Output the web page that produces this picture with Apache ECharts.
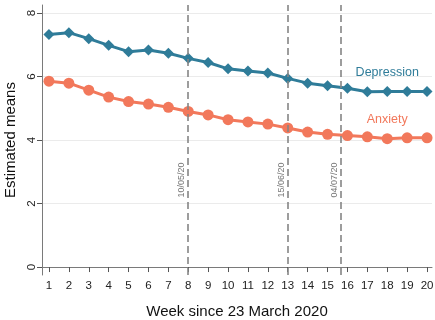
<!DOCTYPE html>
<html><head><meta charset="utf-8">
<script src="https://cdn.jsdelivr.net/npm/echarts@6/dist/echarts.min.js"></script>
<style>html,body{margin:0;padding:0;background:#fff}#c{width:435px;height:320px}</style>
</head><body><div id="c"></div>
<script>
var weeks = [1,2,3,4,5,6,7,8,9,10,11,12,13,14,15,16,17,18,19,20];
var depression = [7.32,7.38,7.19,6.98,6.78,6.83,6.73,6.57,6.44,6.24,6.17,6.11,5.94,5.79,5.71,5.63,5.52,5.53,5.53,5.53];
var anxiety = [5.85,5.79,5.57,5.35,5.21,5.13,5.03,4.90,4.79,4.64,4.57,4.50,4.38,4.25,4.18,4.14,4.10,4.04,4.07,4.07];
var yTicks = [0,2,4,6,8];
var eventWeeks = [8, 13, 15.67];
var eventLabels = ['10/05/20','15/06/20','04/07/20'];
var seriesNames = ['Depression','Anxiety'];
var labelWeek = 18;

var colDep = '#2f7c99', colAnx = '#f2785b';
var font = 'Liberation Sans, Arial, sans-serif';

function mkData(vals, name, col) {
  return weeks.map(function(w, i){
    var item = {value:[w, vals[i]]};
    if (w === labelWeek) {
      item.label = {show:true, position:'top', distance:7, formatter:name, color:col, fontSize:12.5, fontFamily:font};
    }
    return item;
  });
}

var chart = echarts.init(document.getElementById('c'), null, {renderer:'canvas'});
chart.setOption({
  animation:false,
  grid:{left:42, right:3, top:5, bottom:45, outerBoundsMode:'none', containLabel:false},
  xAxis:{
    type:'value', min:0.65, max:20.25,
    name:'Week since 23 March 2020', nameLocation:'middle', nameGap:29,
    nameTextStyle:{fontSize:15, color:'#111', fontFamily:font},
    axisLine:{show:true, lineStyle:{color:'#7a7a7a', width:1}},
    axisTick:{show:true, length:5, customValues:weeks, lineStyle:{color:'#555'}},
    axisLabel:{customValues:weeks, fontSize:11.5, color:'#222', margin:5, fontFamily:font},
    splitLine:{show:false}
  },
  yAxis:{
    type:'value', min:-0.25, max:8.25,
    name:'Estimated means', nameLocation:'middle', nameGap:21,
    nameTextStyle:{fontSize:15, color:'#111', fontFamily:font},
    axisLine:{show:true, lineStyle:{color:'#7a7a7a', width:1}},
    axisTick:{show:true, length:5, customValues:yTicks, lineStyle:{color:'#555'}},
    axisLabel:{customValues:yTicks, rotate:90, fontSize:11.5, color:'#222', margin:4, fontFamily:font},
    splitLine:{show:true, lineStyle:{color:'#ebebeb', width:1}}
  },
  series:[
    {
      name:seriesNames[0], type:'line', data:mkData(depression, seriesNames[0], colDep),
      symbol:'diamond', symbolSize:11,
      lineStyle:{color:colDep, width:3}, itemStyle:{color:colDep},
      markLine:{
        silent:true, symbol:['none','none'],
        lineStyle:{color:'#858585', type:[7,4], width:1.6},
        label:{show:true, position:'insideMiddleTop', distance:2, formatter:'{b}', color:'#777', fontSize:9, fontFamily:font, padding:[0,80,0,0]},
        data: eventWeeks.map(function(w,i){ return {name:eventLabels[i], xAxis:w}; })
      },
      z:3
    },
    {
      name:seriesNames[1], type:'line', data:mkData(anxiety, seriesNames[1], colAnx),
      symbol:'circle', symbolSize:11,
      lineStyle:{color:colAnx, width:3}, itemStyle:{color:colAnx},
      z:3
    }
  ]
});
</script></body></html>
